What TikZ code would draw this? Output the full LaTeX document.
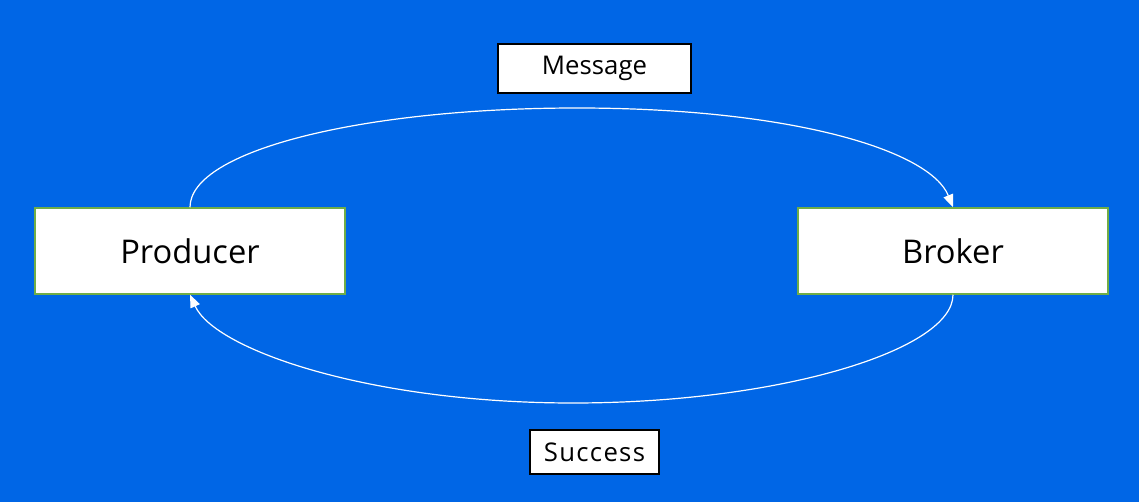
\documentclass[tikz,border=0pt]{standalone}
\usepackage{fontspec}
\setmainfont{Open Sans}
\usetikzlibrary{arrows.meta}
\definecolor{bgblue}{RGB}{0,102,230}
\definecolor{boxgreen}{RGB}{112,173,71}
\tikzset{
  bigbox/.style={draw=boxgreen, line width=1.1pt, fill=white, minimum width=232.5pt, minimum height=64.5pt, inner sep=0pt, font=\fontsize{24.5}{29}\selectfont},
  labelbox/.style={draw=black, line width=0.9pt, fill=white, inner sep=0pt, font=\fontsize{19.3}{23}\selectfont},
  flow/.style={draw=white, line width=0.9pt, -{Triangle[length=9.5pt,width=7.5pt]}}
}
\begin{document}
\begin{tikzpicture}[x=0.75pt,y=-0.75pt]
\fill[bgblue] (0,0) rectangle (1139,502);
\useasboundingbox (0,0) rectangle (1139,502);
\node[bigbox] (prod) at (190,251) {Producer};
\node[bigbox] (broker) at (953,251) {Broker};
\node[labelbox, minimum width=144.75pt, minimum height=36.75pt] (msg) at (594.5,68.5) {Message};
\node[labelbox, minimum width=96.75pt, minimum height=33pt] (succ) at (594.5,452) {\addfontfeatures{LetterSpace=5}Success};
\coordinate (top) at (577,108);
\coordinate (bot) at (573,403);
\draw[flow] (prod.north) .. controls (190,150) and (365,108) .. (top)
  .. controls (790,108) and (930,150) .. (broker.north);
\draw[flow] (broker.south) .. controls (953,350) and (780,403) .. (bot)
  .. controls (370,403) and (215,350) .. (prod.south);
\end{tikzpicture}
\end{document}
